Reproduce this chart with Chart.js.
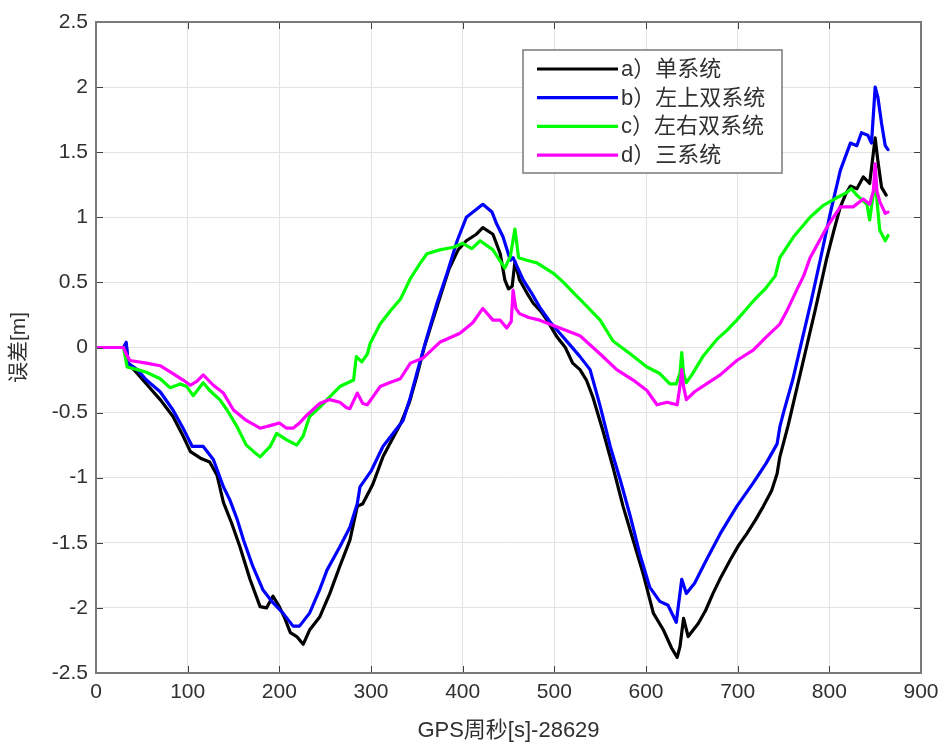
<!DOCTYPE html>
<html>
<head>
<meta charset="utf-8">
<script src="https://cdn.jsdelivr.net/npm/chart.js@4.4.0/dist/chart.umd.min.js"></script>
<style>
html,body{margin:0;padding:0;background:#fff;}
#wrap{width:948px;height:747px;position:relative;}
</style>
</head>
<body>
<div id="wrap"><canvas id="c"></canvas></div>
<script>
const seriesLabels = ['a）单系统', 'b）左上双系统', 'c）左右双系统', 'd）三系统'];
const seriesColors = ['#000000', '#0000ff', '#00ff00', '#ff00ff'];
const xTitle = 'GPS周秒[s]-28629';
const yTitle = '误差[m]';

const aX = [0,30,33,35,45,55,70,84,95,103,114,124,132,139,148,157,168,179,186,193,200,206,212,219,226,233,244,255,266,277,285,291,302,313,322,332,342,350,358,366,375,385,395,404,415,422,433,441,446,450,454,457,462,470,477,485,492,503,512,520,528,535,542,553,564,575,586,597,608,619,628,634,637,641,646,657,665,673,682,692,701,710,719,728,737,743,746,755,765,775,785,797,805,812,818,823,830,837,844,850,853,857,862];
const aY = [0,0,0.02,-0.12,-0.2,-0.28,-0.4,-0.53,-0.68,-0.8,-0.85,-0.88,-0.98,-1.19,-1.35,-1.53,-1.78,-1.99,-2.0,-1.91,-1.99,-2.08,-2.19,-2.22,-2.28,-2.17,-2.07,-1.89,-1.68,-1.48,-1.22,-1.2,-1.05,-0.84,-0.72,-0.59,-0.42,-0.22,0.0,0.18,0.38,0.6,0.75,0.82,0.87,0.92,0.87,0.72,0.52,0.45,0.47,0.66,0.52,0.42,0.34,0.28,0.21,0.08,0,-0.12,-0.17,-0.25,-0.38,-0.64,-0.92,-1.22,-1.48,-1.74,-2.04,-2.17,-2.31,-2.38,-2.3,-2.08,-2.22,-2.12,-2.02,-1.89,-1.76,-1.63,-1.52,-1.43,-1.33,-1.22,-1.1,-0.97,-0.84,-0.6,-0.3,0.0,0.3,0.68,0.9,1.08,1.18,1.24,1.22,1.31,1.26,1.61,1.43,1.23,1.17];

const bX = [0,30,33,35,45,55,70,84,95,105,117,128,139,146,154,161,171,182,193,204,215,222,233,244,252,266,277,285,288,300,313,324,335,343,353,361,372,383,394,404,413,422,432,437,444,452,455,466,475,484,495,506,517,528,539,550,561,572,583,593,604,615,624,633,639,644,653,666,681,699,717,731,743,746,750,760,770,780,790,801,812,823,830,835,842,846,850,853,857,861,864];
const bY = [0,0,0.04,-0.12,-0.17,-0.25,-0.34,-0.48,-0.62,-0.76,-0.76,-0.86,-1.07,-1.17,-1.32,-1.48,-1.68,-1.86,-1.96,-2.04,-2.14,-2.14,-2.04,-1.86,-1.71,-1.53,-1.38,-1.2,-1.07,-0.95,-0.76,-0.66,-0.56,-0.38,-0.12,0.08,0.34,0.57,0.82,1.0,1.05,1.1,1.04,0.95,0.85,0.67,0.69,0.52,0.42,0.31,0.2,0.11,0.02,-0.07,-0.17,-0.45,-0.76,-1.02,-1.3,-1.58,-1.84,-1.95,-1.98,-2.11,-1.78,-1.89,-1.81,-1.63,-1.43,-1.22,-1.04,-0.89,-0.74,-0.61,-0.5,-0.25,0.05,0.35,0.67,1.03,1.36,1.57,1.55,1.65,1.63,1.57,2.0,1.92,1.72,1.55,1.52];

const cX = [0,30,34,45,55,70,81,92,99,106,117,124,135,143,154,164,172,179,190,197,208,219,226,233,244,255,266,281,284,290,296,299,310,321,332,343,353,361,375,390,400,410,419,433,446,452,457,461,470,481,499,510,521,535,550,564,583,601,615,626,633,637,639,641,644,650,662,677,688,699,710,720,730,741,746,761,779,793,808,819,824,830,841,844,850,855,861,864];
const cY = [0,0,-0.15,-0.17,-0.19,-0.24,-0.31,-0.28,-0.3,-0.37,-0.27,-0.33,-0.4,-0.48,-0.61,-0.75,-0.8,-0.84,-0.76,-0.66,-0.71,-0.75,-0.68,-0.53,-0.46,-0.38,-0.3,-0.25,-0.07,-0.11,-0.05,0.03,0.18,0.28,0.37,0.53,0.64,0.72,0.75,0.77,0.8,0.76,0.82,0.75,0.61,0.7,0.91,0.69,0.67,0.65,0.57,0.5,0.42,0.32,0.21,0.05,-0.05,-0.15,-0.2,-0.28,-0.28,-0.2,-0.04,-0.2,-0.27,-0.21,-0.07,0.06,0.13,0.21,0.3,0.38,0.45,0.55,0.69,0.85,1.0,1.09,1.15,1.19,1.22,1.17,1.1,0.98,1.28,0.9,0.82,0.86];

const dX = [0,26,30,33,37,55,70,84,95,103,110,117,128,139,150,164,179,190,200,208,215,222,230,244,255,266,273,277,285,291,296,310,320,332,343,357,375,397,411,422,433,441,448,453,455,458,462,472,484,506,528,550,568,586,601,612,623,634,637,639,641,644,653,666,681,699,717,731,746,755,765,772,779,797,812,826,837,844,848,850,852,855,861,864];
const dY = [0,0,0,-0.05,-0.1,-0.12,-0.14,-0.2,-0.25,-0.29,-0.26,-0.21,-0.29,-0.35,-0.48,-0.56,-0.62,-0.6,-0.58,-0.62,-0.62,-0.58,-0.52,-0.43,-0.4,-0.42,-0.46,-0.47,-0.35,-0.43,-0.44,-0.3,-0.27,-0.24,-0.12,-0.08,0.04,0.11,0.19,0.3,0.21,0.21,0.15,0.2,0.44,0.3,0.26,0.23,0.21,0.15,0.09,-0.05,-0.17,-0.25,-0.33,-0.44,-0.42,-0.44,-0.3,-0.17,-0.3,-0.4,-0.34,-0.28,-0.21,-0.1,-0.02,0.08,0.18,0.3,0.45,0.55,0.69,0.92,1.08,1.08,1.14,1.1,1.2,1.41,1.2,1.12,1.03,1.04];

const xMin = 0, xMax = 900, xStep = 100;
const yMin = -2.5, yMax = 2.5, yStep = 0.5;

const FONT = '"Liberation Sans", Arial, "Noto Sans CJK SC", sans-serif';
const TEXT_COLOR = '#303030';
const FRAME_COLOR = '#7a7a7a';

function pairs(xs, ys){ return xs.map((x,i)=>({x:x, y:ys[i]})); }
const allX = [aX,bX,cX,dX], allY = [aY,bY,cY,dY];

const datasets = seriesLabels.map((lab,i)=>({
  label: lab,
  data: pairs(allX[i], allY[i]),
  borderColor: seriesColors[i],
  backgroundColor: seriesColors[i],
  borderWidth: 3.2,
  pointRadius: 0,
  showLine: true,
  tension: 0,
  order: 4 - i,
  borderJoinStyle: 'round',
  borderCapStyle: 'round'
}));

const framePlugin = {
  id: 'frame',
  afterDraw(chart){
    const ctx = chart.ctx, ca = chart.chartArea;
    const xs = chart.scales.x, ys = chart.scales.y;
    ctx.save();
    ctx.strokeStyle = '#404040';
    ctx.lineWidth = 1;
    const tl = 7;
    ctx.beginPath();
    xs.ticks.forEach(t=>{
      const px = Math.round(xs.getPixelForValue(t.value)) + 0.5;
      ctx.moveTo(px, ca.bottom); ctx.lineTo(px, ca.bottom - tl);
      ctx.moveTo(px, ca.top); ctx.lineTo(px, ca.top + tl);
    });
    ys.ticks.forEach(t=>{
      const py = Math.round(ys.getPixelForValue(t.value)) + 0.5;
      ctx.moveTo(ca.left, py); ctx.lineTo(ca.left + tl, py);
      ctx.moveTo(ca.right, py); ctx.lineTo(ca.right - tl, py);
    });
    ctx.stroke();
    ctx.strokeStyle = FRAME_COLOR;
    ctx.lineWidth = 2;
    ctx.strokeRect(ca.left, ca.top, ca.right - ca.left, ca.bottom - ca.top);

    // legend box
    const lx = 523, ly = 50, lw = 259, lh = 123;
    ctx.fillStyle = '#ffffff';
    ctx.fillRect(lx, ly, lw, lh);
    ctx.strokeStyle = '#7a7a7a';
    ctx.lineWidth = 1.5;
    ctx.strokeRect(lx, ly, lw, lh);
    ctx.font = '22px ' + FONT;
    ctx.textBaseline = 'middle';
    ctx.textAlign = 'left';
    chart.data.datasets.forEach((ds,i)=>{
      const yy = ly + 19 + i*28.7;
      ctx.strokeStyle = ds.borderColor;
      ctx.lineWidth = 3.2;
      ctx.beginPath();
      ctx.moveTo(537, yy); ctx.lineTo(618, yy);
      ctx.stroke();
      ctx.fillStyle = TEXT_COLOR;
      ctx.fillText(ds.label, 621, yy + 1);
    });
    ctx.restore();
  }
};

new Chart(document.getElementById('c'), {
  type: 'scatter',
  data: { datasets },
  options: {
    responsive: true,
    maintainAspectRatio: false,
    animation: false,
    devicePixelRatio: 1,
    layout: { padding: { top: 22, right: 27, left: 0, bottom: 0 } },
    plugins: { legend: { display: false }, tooltip: { enabled: false } },
    scales: {
      x: {
        type: 'linear', min: xMin, max: xMax,
        afterFit(s){ s.height = 74; },
        ticks: { stepSize: xStep, color: TEXT_COLOR, font: { family: FONT, size: 21 }, padding: 7, maxRotation: 0,
          callback: v => String(v) },
        grid: { color: '#e3e3e3', lineWidth: 1, drawTicks: false },
        border: { display: false },
        title: { display: true, text: xTitle, color: TEXT_COLOR, font: { family: FONT, size: 22 }, padding: { top: 4, bottom: 3 } }
      },
      y: {
        type: 'linear', min: yMin, max: yMax,
        afterFit(s){ s.width = 96; },
        ticks: { stepSize: yStep, color: TEXT_COLOR, font: { family: FONT, size: 21 }, padding: 8,
          callback: v => String(Math.round(v*10)/10) },
        grid: { color: '#e3e3e3', lineWidth: 1, drawTicks: false },
        border: { display: false },
        title: { display: true, text: yTitle, color: TEXT_COLOR, font: { family: FONT, size: 21 }, padding: { top: 7, bottom: 0 } }
      }
    }
  },
  plugins: [framePlugin]
});
</script>
</body>
</html>
